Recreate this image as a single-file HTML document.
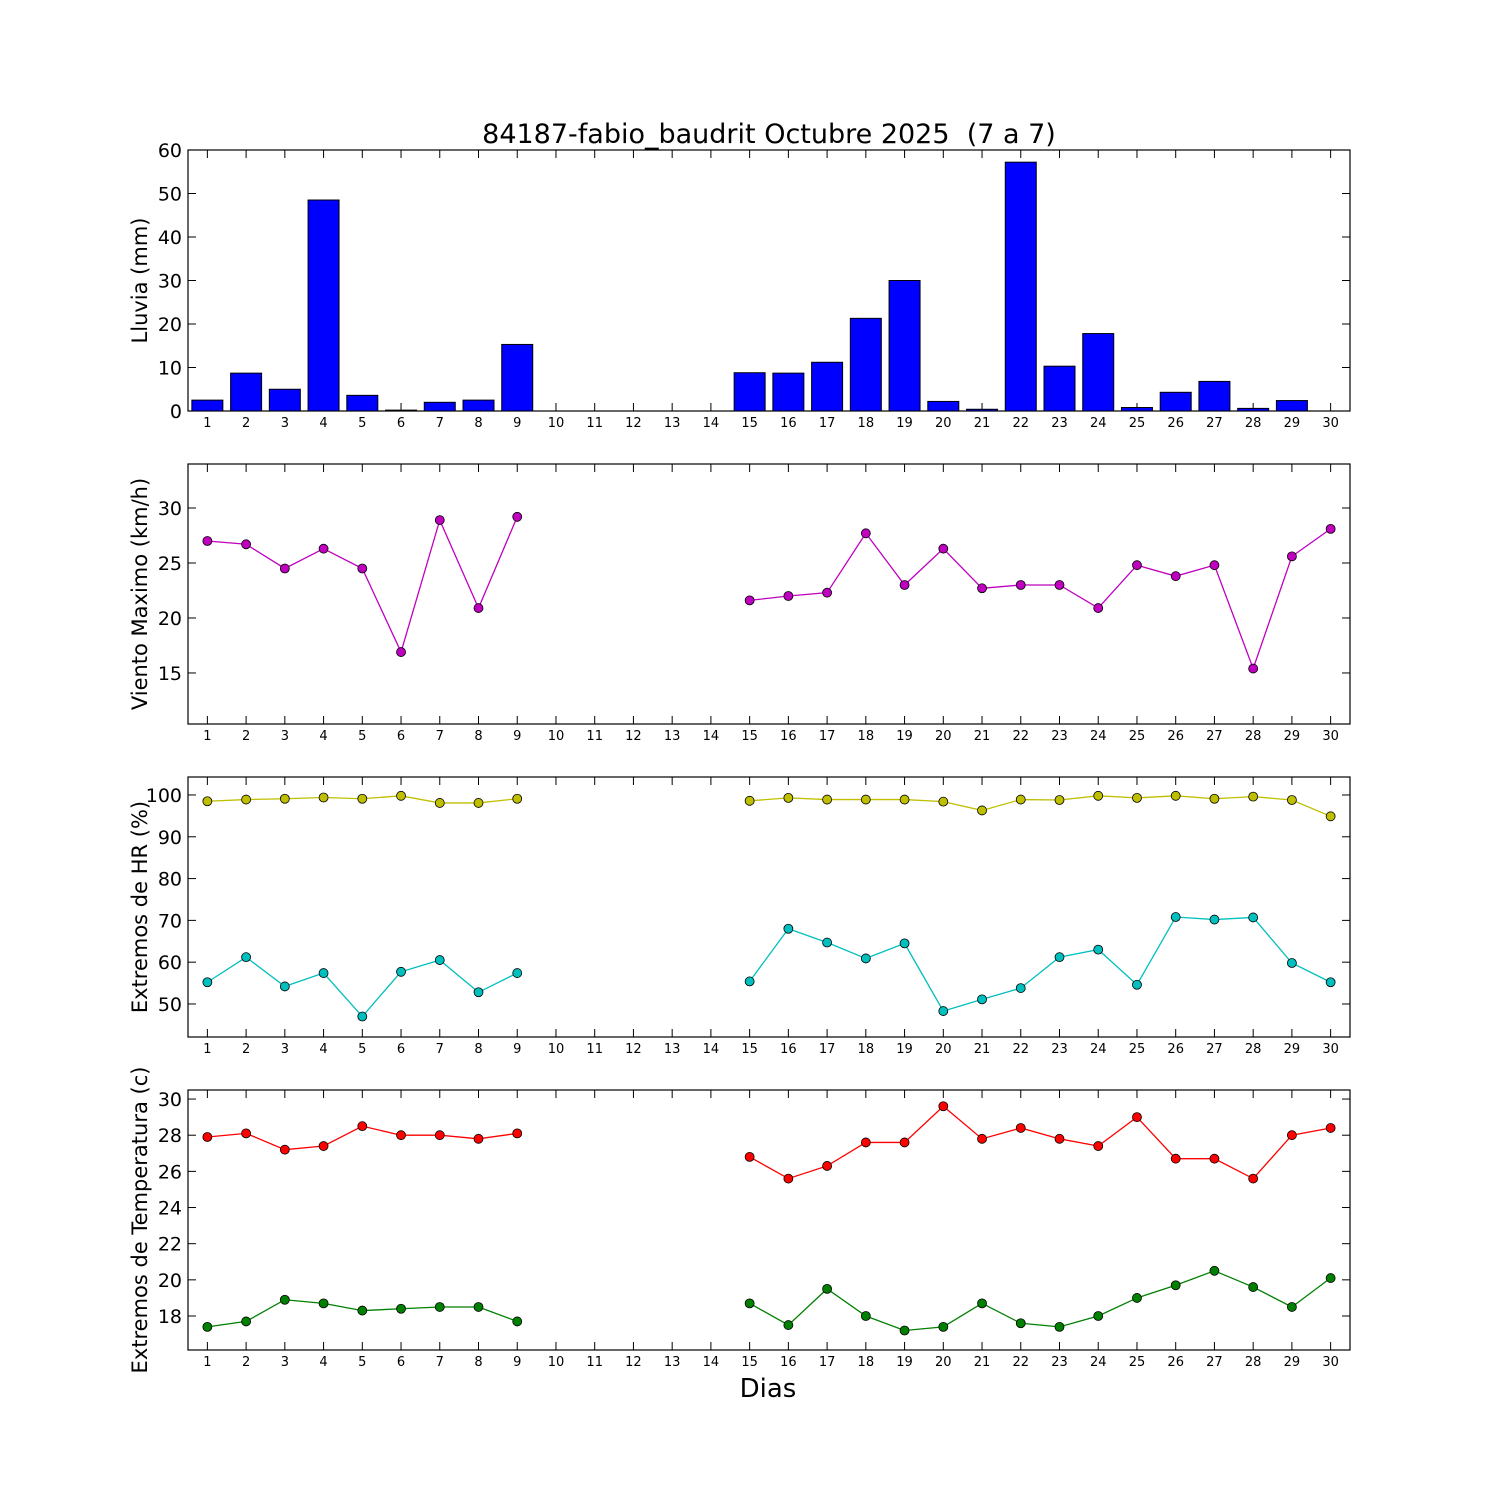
<!DOCTYPE html>
<html><head><meta charset="utf-8"><style>
body{margin:0;background:#fff}
svg{display:block;font-family:"DejaVu Sans","Liberation Sans",sans-serif}
</style></head><body>
<svg id="c" width="1500" height="1500"></svg>
<script>
const days=[1,2,3,4,5,6,7,8,9,10,11,12,13,14,15,16,17,18,19,20,21,22,23,24,25,26,27,28,29,30];
const N=null;
const rain=[2.5,8.7,5,48.5,3.6,0.2,2,2.5,15.3,0,0,0,0,0,8.8,8.7,11.2,21.3,30,2.2,0.4,57.2,10.3,17.8,0.8,4.3,6.8,0.6,2.4,0];
const wind=[27,26.7,24.5,26.3,24.5,16.9,28.9,20.9,29.2,N,N,N,N,N,21.6,22,22.3,27.7,23,26.3,22.7,23,23,20.9,24.8,23.8,24.8,15.4,25.6,28.1];
const hrMax=[98.5,98.9,99.1,99.4,99.1,99.8,98.1,98.1,99.1,N,N,N,N,N,98.6,99.3,98.9,98.9,98.9,98.4,96.3,98.9,98.8,99.8,99.3,99.8,99.1,99.6,98.8,94.9];
const hrMin=[55.2,61.2,54.2,57.4,47,57.7,60.5,52.8,57.4,N,N,N,N,N,55.4,68,64.7,60.9,64.5,48.3,51.1,53.8,61.2,63,54.6,70.8,70.2,70.7,59.8,55.2];
const tMax=[27.9,28.1,27.2,27.4,28.5,28,28,27.8,28.1,N,N,N,N,N,26.8,25.6,26.3,27.6,27.6,29.6,27.8,28.4,27.8,27.4,29,26.7,26.7,25.6,28,28.4];
const tMin=[17.4,17.7,18.9,18.7,18.3,18.4,18.5,18.5,17.7,N,N,N,N,N,18.7,17.5,19.5,18,17.2,17.4,18.7,17.6,17.4,18,19,19.7,20.5,19.6,18.5,20.1];
const ticks1=[0,10,20,30,40,50,60], ticks2=[15,20,25,30], ticks3=[50,60,70,80,90,100], ticks4=[18,20,22,24,26,28,30];

const NS="http://www.w3.org/2000/svg", svg=document.getElementById('c');
function el(t,a,p){const e=document.createElementNS(NS,t);for(const k in a)e.setAttribute(k,a[k]);(p||svg).appendChild(e);return e;}
const L=188,R=1350;
const X=d=>L+(d-0.5)*(R-L)/30;
function panel(name,top,bot,ymin,ymax,yt,label){
  const g=el('g',{});
  
  
  const Y=v=>bot-(v-ymin)*(bot-top)/(ymax-ymin);
  el('rect',{x:L,y:top,width:R-L,height:bot-top,fill:'none',stroke:'#000','stroke-width':1.2},g);
  yt.forEach(v=>{const y=Y(v);
    el('line',{x1:L,x2:L+8,y1:y,y2:y,stroke:'#000'},g);
    el('line',{x1:R,x2:R-8,y1:y,y2:y,stroke:'#000'},g);
    const t=el('text',{x:L-6,y:y+7,'text-anchor':'end','font-size':19},g);t.textContent=v;
    });
  days.forEach(d=>{const x=X(d);
    el('line',{x1:x,x2:x,y1:bot,y2:bot-8,stroke:'#000'},g);
    el('line',{x1:x,x2:x,y1:top,y2:top+8,stroke:'#000'},g);
    const t=el('text',{x:x,y:bot+16,'text-anchor':'middle','font-size':13},g);t.textContent=d;
    });
  const cy=(top+bot)/2;
  const t=el('text',{x:0,y:0,'text-anchor':'middle','font-size':21,transform:`translate(147,${cy}) rotate(-90)`},g);t.textContent=label;
  
  return {g,Y};
}
function series(p,vals,color,name){
  let d='',pen=false;
  vals.forEach((v,i)=>{if(v===null){pen=false;return;}d+=(pen?'L':'M')+X(days[i])+' '+p.Y(v)+' ';pen=true;});
  const path=el('path',{d:d,fill:'none',stroke:color,'stroke-width':1.3},p.g);
  
  vals.forEach((v,i)=>{if(v===null)return;
    const c=el('circle',{cx:X(days[i]),cy:p.Y(v),r:4.5,fill:color,stroke:'#000','stroke-width':0.8},p.g);
    });
}
const p1=panel('rain-panel',150,411,0,60,ticks1,'Lluvia (mm)');
rain.forEach((v,i)=>{if(!v)return;const x=X(days[i]);
  const r=el('rect',{x:x-15.5,y:p1.Y(v),width:31,height:p1.Y(0)-p1.Y(v),fill:'#0000ff',stroke:'#000','stroke-width':1},p1.g);
  });
const p2=panel('wind-panel',464,724,10.36,34,ticks2,'Viento Maximo (km/h)');
series(p2,wind,'#bf00bf','wind');
const p3=panel('humidity-panel',777,1037,42.1,104.3,ticks3,'Extremos de HR (%)');
series(p3,hrMax,'#bfbf00','hr-max');series(p3,hrMin,'#00bfbf','hr-min');
const p4=panel('temperature-panel',1090,1350,16.12,30.5,ticks4,'Extremos de Temperatura (c)');
series(p4,tMax,'#ff0000','t-max');series(p4,tMin,'#008000','t-min');
let t=el('text',{x:769,y:143,'text-anchor':'middle','font-size':27,style:'white-space:pre'});t.textContent='84187-fabio_baudrit Octubre 2025  (7 a 7)';

t=el('text',{x:768,y:1397,'text-anchor':'middle','font-size':26});t.textContent='Dias';

</script>
</body></html>
